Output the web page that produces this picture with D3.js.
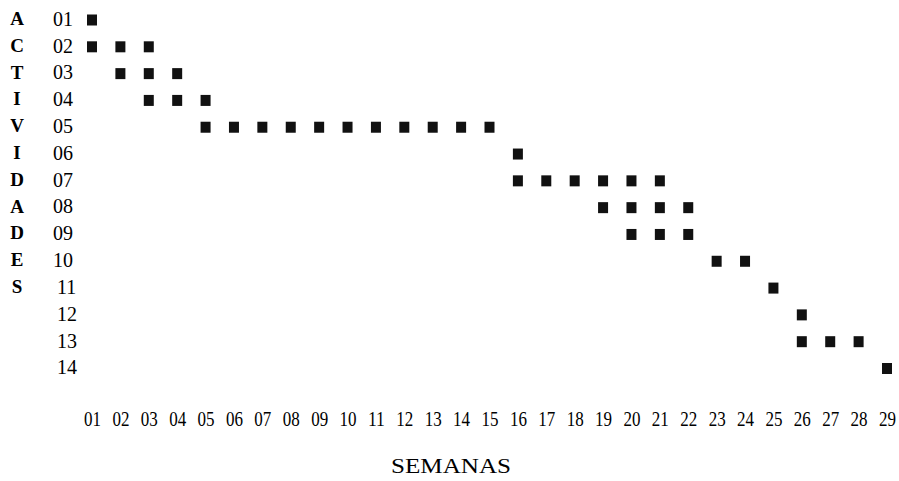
<!DOCTYPE html>
<html>
<head>
<meta charset="utf-8">
<script src="https://cdn.jsdelivr.net/npm/d3@7"></script>
<style>
  html, body { margin: 0; padding: 0; background: #fff; }
  svg { display: block; }
  text { font-family: "Liberation Serif", "Times New Roman", serif; fill: #000; }
</style>
</head>
<body>
<div id="chart"></div>
<script>
// ---- data ----
const activities = ["01","02","03","04","05","06","07","08","09","10","11","12","13","14"];
const weeks = ["01","02","03","04","05","06","07","08","09","10","11","12","13","14","15",
               "16","17","18","19","20","21","22","23","24","25","26","27","28","29"];
const sideLetters = ["A","C","T","I","V","I","D","A","D","E","S"];
// weeks in which each activity is scheduled
const act01 = ["01"];
const act02 = ["01","02","03"];
const act03 = ["02","03","04"];
const act04 = ["03","04","05"];
const act05 = ["05","06","07","08","09","10","11","12","13","14","15"];
const act06 = ["16"];
const act07 = ["16","17","18","19","20","21"];
const act08 = ["19","20","21","22"];
const act09 = ["20","21","22"];
const act10 = ["23","24"];
const act11 = ["25"];
const act12 = ["26"];
const act13 = ["26","27","28"];
const act14 = ["29"];
const schedule = [act01,act02,act03,act04,act05,act06,act07,act08,act09,act10,act11,act12,act13,act14];
const xTitle = "SEMANAS";

// ---- layout ----
const W = 899, H = 481;
const svg = d3.select("#chart").append("svg").attr("width", W).attr("height", H);

const x = d3.scalePoint().domain(weeks).range([92, 887]);
const y = d3.scalePoint().domain(activities).range([18.5, 367]);

// marks
const cells = [];
schedule.forEach((ws, i) => ws.forEach(w => cells.push({a: activities[i], w})));
const sqW = 10, sqH = 11;
svg.append("g").selectAll("rect").data(cells).join("rect")
  .attr("x", d => x(d.w) - sqW / 2)
  .attr("y", d => y(d.a) - sqH / 2 + 1.5)
  .attr("width", sqW).attr("height", sqH)
  .attr("fill", "#111");

// y axis (activity numbers)
const yAxis = svg.append("g")
  .attr("transform", "translate(52,0)")
  .call(d3.axisRight(y).tickSize(0).tickPadding(0));
yAxis.select(".domain").remove();
yAxis.selectAll("text")
  .attr("font-family", "Liberation Serif")
  .attr("font-size", 20)
  .attr("text-anchor", "start")
  .attr("dy", "0.34em")
  .attr("x", (d, i) => i >= 10 ? 5 : 1);

// side letters
svg.append("g").selectAll("text").data(sideLetters).join("text")
  .attr("x", 17)
  .attr("y", (d, i) => y(activities[i]))
  .attr("dy", "0.34em")
  .attr("text-anchor", "middle")
  .attr("font-size", 19)
  .attr("font-weight", "bold")
  .text(d => d);

// x axis (weeks)
const xAxis = svg.append("g")
  .attr("transform", "translate(0,419)")
  .call(d3.axisBottom(x).tickSize(0).tickPadding(0));
xAxis.select(".domain").remove();
xAxis.selectAll("text")
  .attr("font-family", "Liberation Serif")
  .attr("font-size", 21)
  .attr("dy", "0.34em")
  .attr("y", 0)
  .attr("textLength", 17)
  .attr("lengthAdjust", "spacingAndGlyphs");

// x title
svg.append("text")
  .attr("x", 451).attr("y", 466)
  .attr("dy", "0.34em")
  .attr("text-anchor", "middle")
  .attr("font-size", 20)
  .attr("textLength", 120)
  .attr("lengthAdjust", "spacingAndGlyphs")
  .text(xTitle);
</script>
</body>
</html>
